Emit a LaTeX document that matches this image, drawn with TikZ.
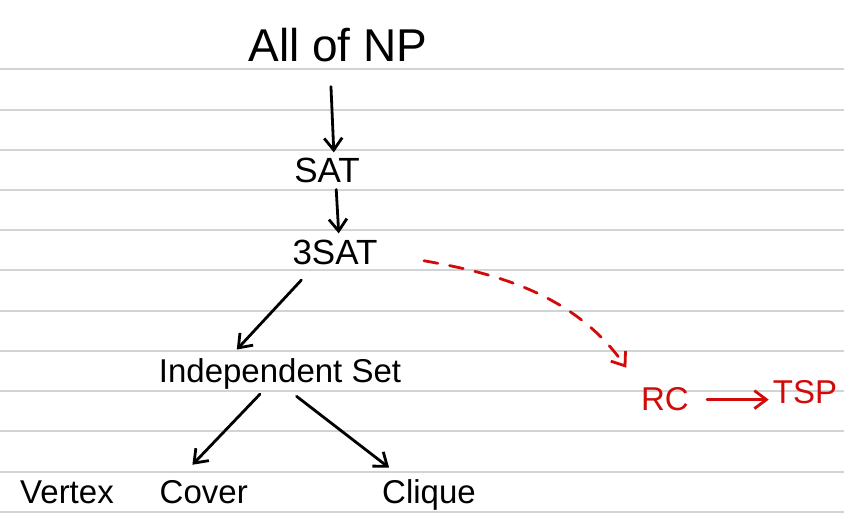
\documentclass[tikz,border=0pt]{standalone}
\usepackage{fontspec}
\setmainfont{Liberation Sans}
\usetikzlibrary{arrows.meta}
\definecolor{inkred}{RGB}{210,10,10}
\definecolor{rulegray}{RGB}{208,212,212}

\begin{document}
\begin{tikzpicture}[x=1pt, y=1pt,
		ink/.style={anchor=base, inner sep=2pt, font=\fontsize{33}{36}\selectfont},
		link/.style={line width=2.8pt, line cap=round, -{Straight Barb[length=12pt,width=18pt,line width=2.8pt]}},
		redlink/.style={link, inkred}]
		\useasboundingbox[fill=white] (0,0) rectangle (844,-521);
		% ruled paper
		\foreach \y in {0,...,11}
			\draw[rulegray, line width=2pt] (0,-69.5-40.2*\y) -- (844,-69.5-40.2*\y);
		
		% problems
		\node[ink, font=\fontsize{46}{50}\selectfont] (np) at (338,-62) {All of NP};
		\node[ink, font=\fontsize{35}{38}\selectfont] (sat) at (327,-183) {SAT};
		\node[ink, font=\fontsize{35}{38}\selectfont] (3sat) at (335,-265) {3SAT};
		\node[ink] (is) at (280,-383) {Independent Set};
		\node[ink] (vc) at (134,-503) {Vertex\hspace{46pt}Cover};
		\node[ink] (cl) at (429,-503) {Clique};
		% reductions on the right
		\node[ink, text=inkred] (rc) at (665,-411) {RC};
		\node[ink, text=inkred] (tsp) at (805,-404) {TSP};
		
		% arrows
		\draw[link, shorten <=22pt, shorten >=4pt] ([xshift=-8pt]np.south) -- ([xshift=7pt]sat.north);
		\draw[link, shorten <=4pt, shorten >=5pt] ([xshift=9pt]sat.south) -- ([xshift=4pt]3sat.north);
		\draw[link, shorten <=17pt, shorten >=10pt] ([xshift=-22pt]3sat.south) -- ([xshift=-50pt]is.north);
		\draw[link, shorten <=3pt, shorten >=18pt] ([xshift=-18pt]is.south) -- ([xshift=46pt]vc.north);
		\draw[link, shorten <=7pt, shorten >=15pt] ([xshift=11pt]is.south) -- ([xshift=-28pt]cl.north);
		\draw[redlink, dash pattern=on 14pt off 12pt, shorten <=45pt, shorten >=22pt]
			(3sat.east) to[out=-10, in=125] (rc.north west);
		\draw[redlink, shorten <=16pt, shorten >=2pt] (rc.east) -- (tsp.west |- rc.east);
	\end{tikzpicture}
\end{document}
